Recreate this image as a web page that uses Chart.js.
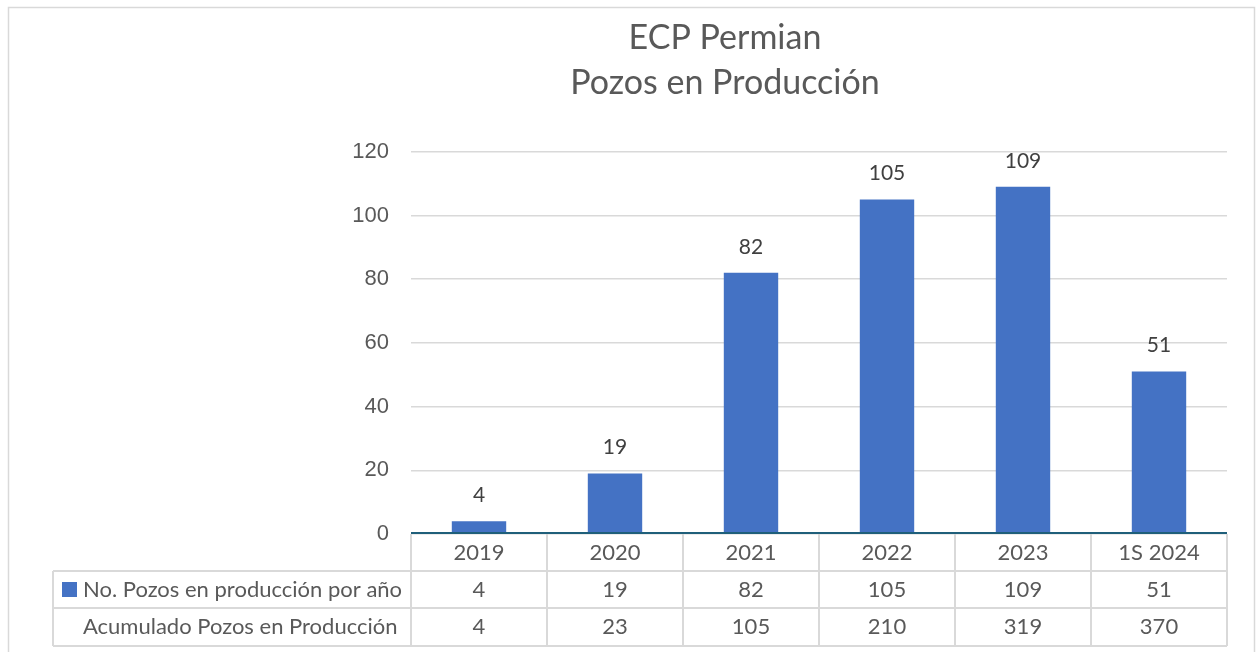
<!DOCTYPE html>
<html>
<head>
<meta charset="utf-8">
<script src="https://cdn.jsdelivr.net/npm/chart.js@4.4.1/dist/chart.umd.min.js"></script>
<style>
  html, body { margin: 0; padding: 0; background: #ffffff; }
  #wrap { width: 1256px; height: 652px; position: relative; }
</style>
</head>
<body>
<div id="wrap"><canvas id="c" width="1256" height="652"></canvas></div>
<script>
const titleLines = ['ECP Permian', 'Pozos en Producción'];
const categories = ['2019', '2020', '2021', '2022', '2023', '1S 2024'];
const perYear = [4, 19, 82, 105, 109, 51];
const cumulative = [4, 23, 105, 210, 319, 370];
const seriesNames = ['No. Pozos en producción por año', 'Acumulado Pozos en Producción'];
const yTicks = [0, 20, 40, 60, 80, 100, 120];

const BAR = '#4472C4';
const TXT = '#595959';
const GRID = '#d9d9d9';
const TABLE_FONT = '22px Lato';

const dataLabels = {
  id: 'dataLabels',
  afterDatasetsDraw(chart) {
    const ctx = chart.ctx;
    const meta = chart.getDatasetMeta(0);
    ctx.save();
    ctx.font = '21px Lato';
    ctx.fillStyle = '#404040';
    ctx.textAlign = 'center';
    ctx.textBaseline = 'middle';
    meta.data.forEach((bar, i) => {
      ctx.fillText(String(chart.data.datasets[0].data[i]), bar.x, bar.y - 26);
    });
    ctx.restore();
  }
};

const dataTable = {
  id: 'dataTable',
  afterDraw(chart) {
    const ctx = chart.ctx;
    const xs = chart.scales.x;
    const area = chart.chartArea;
    const n = categories.length;
    const cw = (area.right - area.left) / n;
    const top = area.bottom;
    const rows = [top, top + 37, top + 74, top + 112];
    const legendLeft = 53;
    ctx.save();
    // outer chart border
    ctx.strokeStyle = GRID;
    ctx.lineWidth = 1.5;
    ctx.strokeRect(8.5, 7.5, 1246, 660);
    // table lines
    ctx.lineWidth = 2;
    ctx.strokeStyle = GRID;
    ctx.beginPath();
    for (let i = 0; i <= n; i++) {
      const x = Math.round(area.left + i * cw);
      ctx.moveTo(x, top);
      ctx.lineTo(x, rows[3]);
    }
    ctx.moveTo(legendLeft, rows[1]);
    ctx.lineTo(legendLeft, rows[3]);
    for (let r = 1; r <= 3; r++) {
      ctx.moveTo(legendLeft, rows[r]);
      ctx.lineTo(area.right, rows[r]);
    }
    ctx.stroke();
    // axis line
    ctx.strokeStyle = '#1F5F7A';
    ctx.lineWidth = 2;
    ctx.beginPath();
    ctx.moveTo(area.left, top - 1);
    ctx.lineTo(area.right, top - 1);
    ctx.stroke();
    // texts
    ctx.font = TABLE_FONT;
    ctx.fillStyle = TXT;
    ctx.textBaseline = 'middle';
    ctx.textAlign = 'center';
    const rowData = [categories, perYear, cumulative];
    for (let r = 0; r < 3; r++) {
      const cy = (rows[r] + rows[r + 1]) / 2;
      for (let i = 0; i < n; i++) {
        const cx = xs.getPixelForValue(i);
        ctx.fillText(String(rowData[r][i]), cx, cy);
      }
    }
    // legend column
    ctx.textAlign = 'left';
    for (let s = 0; s < 2; s++) {
      const cy = (rows[s + 1] + rows[s + 2]) / 2;
      if (s === 0) {
        ctx.fillStyle = BAR;
        ctx.fillRect(62, cy - 7.5, 15, 15);
      }
      ctx.fillStyle = TXT;
      ctx.fillText(seriesNames[s], 83, cy);
    }
    ctx.restore();
  }
};

new Chart(document.getElementById('c'), {
  type: 'bar',
  data: {
    labels: categories,
    datasets: [{
      label: seriesNames[0],
      data: perYear,
      backgroundColor: BAR,
      borderWidth: 0,
      barPercentage: 0.4,
      categoryPercentage: 1.0
    }]
  },
  options: {
    responsive: false,
    animation: false,
    devicePixelRatio: 1,
    layout: { padding: { left: 223, right: 29, top: 0, bottom: 118 } },
    plugins: {
      legend: { display: false },
      tooltip: { enabled: false },
      title: {
        display: true,
        text: titleLines,
        color: TXT,
        font: { family: 'Lato', size: 34, weight: 'normal', lineHeight: 1.32 },
        padding: { top: 16, bottom: 46 }
      }
    },
    scales: {
      x: {
        display: false,
        offset: true
      },
      y: {
        min: 0,
        max: 120,
        afterBuildTicks(scale) { scale.ticks = yTicks.map(v => ({ value: v })); },
        afterFit(scale) { scale.width = 188; },
        border: { display: false },
        grid: { color: GRID, lineWidth: 1.5, drawTicks: false },
        ticks: {
          color: TXT,
          padding: 22,
          font: { family: 'Liberation Sans', size: 22 }
        }
      }
    }
  },
  plugins: [dataLabels, dataTable]
});
</script>
</body>
</html>
